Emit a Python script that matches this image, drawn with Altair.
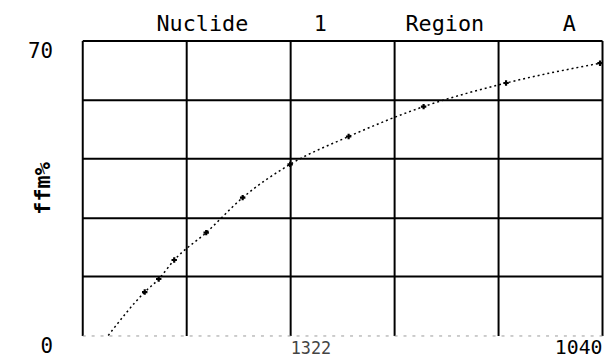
import altair as alt
import pandas as pd

# curve (line) points
line_x = [52, 125, 153, 184, 248, 321, 416, 533, 683, 848, 1036]
line_y = [0, 10.3, 13.4, 17.9, 24.4, 32.7, 40.6, 47.2, 54.3, 59.9, 64.6]
# measured points (markers)
pt_x = [125, 153, 184, 248, 321, 416, 533, 683, 848, 1036]
pt_y = [10.3, 13.4, 17.9, 24.4, 32.7, 40.6, 47.2, 54.3, 59.9, 64.6]

x_grid = [0, 208, 416, 624, 832, 1040]
y_grid = [0, 14, 28, 42, 56, 70]

NB = "\u00a0"
title_text = "Nuclide" + NB * 5 + "1" + NB * 6 + "Region" + NB * 6 + "A"
x_title = "1322"
y_title = "ffm%"

line_df = pd.DataFrame({"x": line_x, "y": line_y})
pt_df = pd.DataFrame({"x": pt_x, "y": pt_y})

MONO = "DejaVu Sans Mono"

x_enc = alt.X(
    "x:Q",
    scale=alt.Scale(domain=[0, 1040], nice=False, zero=False),
    axis=alt.Axis(
        values=x_grid,
        labelExpr="datum.value == 1040 ? '1040' : ''",
        labelAlign="right",
        labelBaseline="top",
        labelPadding=2,
        labelFont=MONO,
        labelFontSize=20,
        labelColor="black",
        ticks=False,
        domain=False,
        grid=True,
        gridColor="black",
        gridWidth=2,
        title=x_title,
        titleFont=MONO,
        titleFontSize=17,
        titleFontWeight="normal",
        titleColor="#444",
        titleX=210,
        titleY=5,
        titleAlign="left",
        titleBaseline="top",
    ),
)

y_enc = alt.Y(
    "y:Q",
    scale=alt.Scale(domain=[0, 70], nice=False),
    axis=alt.Axis(
        values=y_grid,
        labelExpr="datum.value == 70 ? '70' : (datum.value == 0 ? '0' : '')",
        labelBaseline="top",
        labelPadding=30,
        labelFont=MONO,
        labelFontSize=21,
        labelColor="black",
        ticks=False,
        domain=False,
        grid=True,
        gridColor={"condition": {"test": "datum.value === 0", "value": "#999"}, "value": "black"},
        gridWidth={"condition": {"test": "datum.value === 0", "value": 1}, "value": 2},
        gridDash={"condition": {"test": "datum.value === 0", "value": [3, 6]}, "value": []},
        title=y_title,
        titleFont=MONO,
        titleFontSize=22,
        titleFontWeight="bold",
        titleColor="black",
        titleX=-40,
        titleY=149,
        titleAlign="center",
        titleBaseline="middle",
        titleAngle=270,
    ),
)

line = alt.Chart(line_df).mark_line(
    interpolate="monotone", color="black", strokeWidth=1.5, strokeDash=[2, 3]
).encode(x=x_enc, y=y_enc)

pts = alt.Chart(pt_df).mark_point(
    shape="cross", filled=True, color="black", size=30, opacity=1
).encode(x="x:Q", y="y:Q")

chart = (
    alt.layer(line, pts)
    .properties(
        width=525,
        height=298,
        autosize=alt.AutoSizeParams(type="none"),
        padding={"left": 75, "top": 31, "right": 2, "bottom": 23},
        title=alt.TitleParams(
            text=title_text,
            anchor="start",
            frame="group",
            dx=75,
            offset=5,
            font=MONO,
            fontSize=22,
            fontWeight="normal",
            color="black",
        ),
        background="white",
    )
    .configure_view(strokeWidth=0)
)

chart.save("out.html", embed_options={"renderer": "svg", "actions": False})
